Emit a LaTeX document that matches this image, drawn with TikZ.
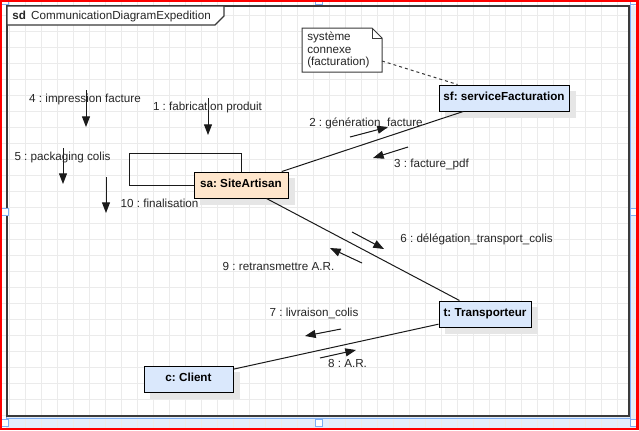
\documentclass[tikz,border=0pt]{standalone}
\usepackage{fontspec}
\setmainfont{Liberation Sans}
\usetikzlibrary{arrows.meta,calc}
\definecolor{gridc}{HTML}{EBEBEB}
\definecolor{nodeblue}{HTML}{DAE8FC}
\definecolor{nodepeach}{HTML}{FFE6CC}
\definecolor{selblue}{HTML}{7FAEF2}
\definecolor{bandblue}{HTML}{E4EEFB}
\definecolor{framec}{HTML}{3A3A3A}
\definecolor{txt}{HTML}{262626}
\definecolor{shadowc}{HTML}{E6E6E6}
\definecolor{linec}{HTML}{1A1A1A}
\pgfdeclarelayer{bg}
\pgfsetlayers{bg,main}
\frenchspacing
\tikzset{
  obj/.style={draw=black, line width=0.75pt, font=\bfseries\fontsize{8.75pt}{10pt}\selectfont,
    text=black, inner sep=0pt, text height=8pt, text depth=5pt, minimum height=19.5pt},
  lbl/.style={font=\fontsize{8.75pt}{10pt}\selectfont, text=txt, inner sep=0pt, anchor=base},
  conn/.style={draw=linec, line width=0.75pt},
  msg/.style={draw=linec, fill=linec, line width=0.75pt, -{Triangle[length=8pt,width=6pt]}},
  handle/.style={draw=selblue, fill=white, line width=0.75pt}
}
\begin{document}
\frenchspacing
\begin{tikzpicture}[x=0.75pt,y=-0.75pt]
\useasboundingbox (0,0) rectangle (639,430);
\begin{pgfonlayer}{bg}
  \fill[white] (0,0) rectangle (639,430);
  \fill[bandblue] (629,6) rectangle (636,428);
  \fill[bandblue] (6,416) rectangle (636,428);
  \foreach \x in {-6.5,9.5,...,633.5} \draw[gridc, line width=0.75pt] (\x,0) -- (\x,430);
  \foreach \y in {-0.5,15.5,...,431.5} \draw[gridc, line width=0.75pt] (0,\y) -- (639,\y);
\end{pgfonlayer}

% selection outline and frame
\draw[selblue, line width=0.6pt] (6,5) rectangle (630,418);
\draw[framec, line width=0.85pt] (7,6) rectangle (629,416);
\draw[framec, line width=0.85pt, fill=white] (7,6) -- (224,6) -- (224,16) -- (215,25) -- (7,25) -- cycle;
\node[lbl, anchor=base west] (title) at (12,19) {\textbf{sd}\hspace{4pt}CommunicationDiagramExpedition};

% note
\draw[framec, line width=0.75pt, fill=white] (302,28) -- (372,28) -- (382,38) -- (382,72) -- (302,72) -- cycle;
\draw[framec, line width=0.75pt] (372,28) -- (372,38) -- (382,38);
\node[lbl, anchor=base west] (note1) at (307,40) {système};
\node[lbl, anchor=base west] (note2) at (307,53) {connexe};
\node[lbl, anchor=base west] (note3) at (307,65) {(facturation)};
\coordinate (noteR) at (382,61);

% objects
\node[obj, fill=nodeblue, minimum width=97.5pt] (sf) at (504,98) {sf: serviceFacturation};
\node[obj, fill=nodepeach, minimum width=70.5pt] (sa) at (241,185) {sa: SiteArtisan};
\node[obj, fill=nodeblue, minimum width=69pt] (t) at (485,314) {t: Transporteur};
\node[obj, fill=nodeblue, minimum width=66.75pt] (c) at (188.5,379) {c: Client};

\begin{pgfonlayer}{bg}
  \foreach \n in {sf,sa,t,c}
    \fill[shadowc] ([shift={(6,6)}]\n.north west) rectangle ([shift={(6,6)}]\n.south east);
\end{pgfonlayer}

% links
\draw[conn] (sa) -- (sf);
\draw[conn] (sa) -- (t);
\draw[conn] (c) -- (t);
\coordinate (loopA) at (129,153);
\draw[conn] (sa.north) |- (loopA) |- (sa.west);
\draw[framec, line width=0.75pt, dash pattern=on 2.25pt off 2.25pt] (noteR) -- ([xshift=14.25pt]sf.north west);

% message arrows
\coordinate (m4s) at (86,90);   \coordinate (m4e) at (86,127);
\coordinate (m1s) at (208,98);  \coordinate (m1e) at (208,135);
\coordinate (m5s) at (63,148);  \coordinate (m5e) at (63,184);
\coordinate (m10s) at (106,177); \coordinate (m10e) at (106,213);
\coordinate (m2s) at (350,137); \coordinate (m2e) at (388,127);
\coordinate (m3s) at (408,147); \coordinate (m3e) at (373,158);
\coordinate (m6s) at (352,232); \coordinate (m6e) at (384,249);
\coordinate (m9s) at (362,263); \coordinate (m9e) at (330,248);
\coordinate (m7s) at (341,329); \coordinate (m7e) at (305,336);
\coordinate (m8s) at (320,358); \coordinate (m8e) at (356,350);
\foreach \m in {4,1,5,10,2,3,6,9,7,8}
  \draw[msg] (m\m s) -- (m\m e);

% labels
\node[lbl] (l4) at (85,102) {4 : impression facture};
\node[lbl] (l1) at (207.5,110) {1 : fabrication produit};
\node[lbl] (l5) at (62.5,160) {5 : packaging colis};
\node[lbl] (l10) at (159.5,207) {10 : finalisation};
\node[lbl] (l2) at (366,126) {2 : génération\textunderscore facture};
\node[lbl] (l3) at (431.5,167) {3 : facture\textunderscore pdf};
\node[lbl] (l6) at (476.5,242) {6 : délégation\textunderscore transport\textunderscore colis};
\node[lbl] (l9) at (278.5,270) {9 : retransmettre A.R.};
\node[lbl] (l7) at (314,316) {7 : livraison\textunderscore colis};
\node[lbl] (l8) at (347.5,367) {8 : A.R.};

% selection handles
\foreach \p in {(4.5,1),(319,1),(633.5,1),(4.5,211.7),(633.5,211.7),(4.5,422.5),(319,422.5),(633.5,422.5)}
  \draw[handle] \p ++(-3.5,-3.5) rectangle ++(7,7);

% red border
\fill[red] (0,0) rectangle (2,430);
\fill[red] (0,0) rectangle (639,1.5);
\fill[red] (636,0) rectangle (639,430);
\fill[red] (0,428) rectangle (639,430);
\end{tikzpicture}
\end{document}
